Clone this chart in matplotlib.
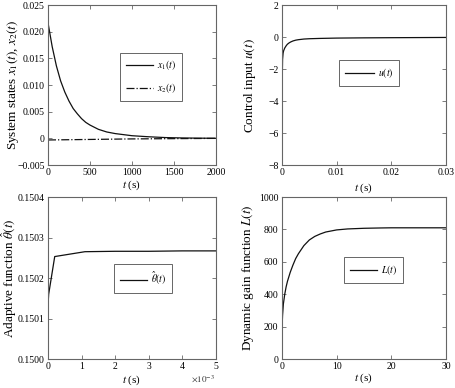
import matplotlib
matplotlib.use('Agg')
import matplotlib.pyplot as plt
from matplotlib.ticker import FuncFormatter

plt.rcParams['font.family'] = ['Liberation Serif', 'DejaVu Serif']
plt.rcParams['mathtext.fontset'] = 'stix'
plt.rcParams['font.size'] = 7

# ── DATA ─────────────────────────────────────────────────────
t_x = [0, 50, 100, 150, 200, 250, 300, 350, 400, 450, 500, 600, 700, 800,
       900, 1000, 1100, 1200, 1400, 1600, 1800, 2000]
x1 = [0.0217, 0.0172, 0.0136, 0.0108, 0.0087, 0.0070, 0.0056, 0.0046, 0.0037,
      0.0030, 0.0025, 0.0017, 0.0012, 0.0009, 0.0007, 0.0005, 0.0004, 0.0003,
      0.00015, 0.00008, 0.00004, 0.00002]
x2 = [-0.0003, -0.00029, -0.00028, -0.00027, -0.00026, -0.00025, -0.00024,
      -0.00023, -0.00022, -0.00021, -0.0002, -0.00018, -0.00016, -0.00014,
      -0.00012, -0.0001, -0.00009, -0.00008, -0.00006, -0.00004, -0.00002, 0.0]

t_u = [0, 0.00005, 0.0001, 0.0002, 0.0003, 0.0005, 0.0008, 0.001, 0.0013,
       0.0016, 0.002, 0.0025, 0.003, 0.004, 0.005, 0.007, 0.01, 0.015, 0.02, 0.03]
u = [-7.8, -2.5, -1.4, -1.0, -0.85, -0.68, -0.52, -0.44, -0.36, -0.30, -0.24,
     -0.19, -0.16, -0.12, -0.10, -0.08, -0.06, -0.045, -0.035, -0.02]

t_th = [0, 0.000005, 0.00002, 0.0002, 0.0011, 0.002, 0.003, 0.004, 0.005]
theta = [0.15000, 0.15014, 0.15016, 0.150253, 0.150265, 0.150266, 0.150266,
         0.150267, 0.150267]

t_L = [0, 0.1, 0.25, 0.5, 0.75, 1, 1.5, 2, 2.5, 3, 4, 5, 6, 7, 8, 10, 12,
       15, 18, 20, 25, 30]
L = [190, 270, 340, 400, 445, 480, 535, 580, 620, 650, 700, 735, 757, 772,
     784, 797, 803, 807, 809, 810, 810, 810]

# ── STYLE ────────────────────────────────────────────────────
SPINE = '#666666'
LINE = '#111111'
YLABEL_FS = 9.5
XLABEL_FS = 8


def style(ax):
    for s in ax.spines.values():
        s.set_color(SPINE)
        s.set_linewidth(0.8)
    ax.tick_params(direction='in', top=True, right=True, length=3,
                   width=0.6, color=SPINE, labelsize=7, pad=2.5)


def legend(ax, cx, cy, hl=2.8):
    lg = ax.legend(loc='center', bbox_to_anchor=(cx, cy), fancybox=False,
                   edgecolor='#666666', fontsize=7, handlelength=hl,
                   borderpad=0.6, labelspacing=0.9, handletextpad=0.4,
                   borderaxespad=0, framealpha=1)
    lg.get_frame().set_linewidth(0.7)


def labels(ax, xl, yl, xy, yx):
    ax.set_xlabel(xl, fontsize=XLABEL_FS)
    ax.set_ylabel(yl, fontsize=YLABEL_FS)
    ax.xaxis.set_label_coords(0.5, xy)
    ax.yaxis.set_label_coords(yx, 0.5)


fig = plt.figure(figsize=(4.55, 3.88), dpi=100)
ax1 = fig.add_axes([0.1055, 0.5747, 0.369, 0.412])
ax2 = fig.add_axes([0.6198, 0.5747, 0.3604, 0.412])
ax3 = fig.add_axes([0.1055, 0.0747, 0.369, 0.4175])
ax4 = fig.add_axes([0.6198, 0.0747, 0.3604, 0.4175])

# system states
ax1.plot(t_x, x1, color=LINE, lw=0.9, label='$x_1(t)$')
ax1.plot(t_x, x2, color=LINE, lw=0.9, ls='-.', label='$x_2(t)$')
ax1.set_xlim(0, 2000)
ax1.set_ylim(-0.005, 0.025)
ax1.set_xticks([0, 500, 1000, 1500, 2000])
ax1.set_yticks([-0.005, 0, 0.005, 0.010, 0.015, 0.020, 0.025])
ax1.set_yticklabels(['\u22120.005', '0', '0.005', '0.010', '0.015', '0.020', '0.025'])
style(ax1)
labels(ax1, '$t$ (s)', 'System states $x_1(t)$, $x_2(t)$', -0.085, -0.16)
legend(ax1, 0.613, 0.553)

# control input
ax2.plot(t_u, u, color=LINE, lw=0.9, label='$u(t)$')
ax2.set_xlim(0, 0.03)
ax2.set_ylim(-8, 2)
ax2.set_xticks([0, 0.01, 0.02, 0.03])
ax2.set_xticklabels(['0', '0.01', '0.02', '0.03'])
ax2.set_yticks([-8, -6, -4, -2, 0, 2])
ax2.set_yticklabels(['\u22128', '\u22126', '\u22124', '\u22122', '0', '2'])
style(ax2)
labels(ax2, '$t$ (s)', 'Control input $u(t)$', -0.10, -0.146)
legend(ax2, 0.530, 0.575, hl=3.0)

# adaptive function
ax3.plot(t_th, theta, color=LINE, lw=0.9, label=r'$\hat{\theta}(t)$')
ax3.set_xlim(0, 0.005)
ax3.set_ylim(0.1500, 0.1504)
ax3.set_xticks([0, 0.001, 0.002, 0.003, 0.004, 0.005])
ax3.xaxis.set_major_formatter(FuncFormatter(lambda v, p: f'{v * 1e3:g}'))
ax3.set_yticks([0.1500, 0.1501, 0.1502, 0.1503, 0.1504])
ax3.set_yticklabels(['0.1500', '0.1501', '0.1502', '0.1503', '0.1504'])
style(ax3)
labels(ax3, '$t$ (s)', r'Adaptive function $\hat{\theta}(t)$', -0.092, -0.173)
ax3.text(0.923, -0.118, r'$\times10^{-3}$', transform=ax3.transAxes,
         ha='center', va='center', fontsize=6.5, color='#333333')
legend(ax3, 0.565, 0.497)

# dynamic gain
ax4.plot(t_L, L, color=LINE, lw=0.9, label='$L(t)$')
ax4.set_xlim(0, 30)
ax4.set_ylim(0, 1000)
ax4.set_xticks([0, 10, 20, 30])
ax4.set_yticks([0, 200, 400, 600, 800, 1000])
style(ax4)
labels(ax4, '$t$ (s)', 'Dynamic gain function $L(t)$', -0.08, -0.159)
legend(ax4, 0.558, 0.549)

fig.savefig('out.png', dpi=100, facecolor='white')
